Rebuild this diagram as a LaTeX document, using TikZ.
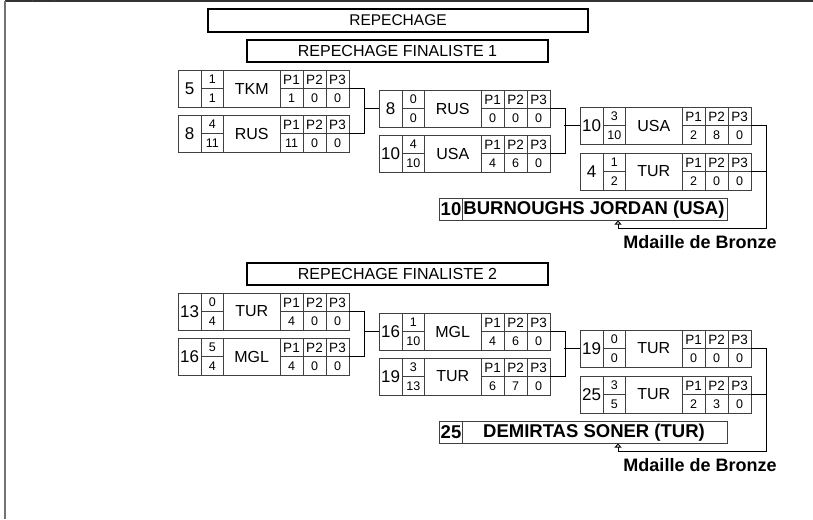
\documentclass[tikz,border=0pt]{standalone}
\usepackage{fontspec}
\setmainfont{Liberation Sans}
\usetikzlibrary{arrows.meta}
\usetikzlibrary{calc}

% one bout: id, top left corner, seed, scores, team, points
\newcommand{\matchbox}[9]{%
  \begin{scope}[shift={(#2)}]
    \node[match] (#1) at (85.5,18.5) {};
    \draw[cell] (23,0) -- (23,37) (45.5,0) -- (45.5,37) (102,0) -- (102,37)
      (125,0) -- (125,37) (148,0) -- (148,37)
      (23,18.5) -- (45.5,18.5) (102,18.5) -- (171,18.5);
    \node[seedtxt] (#1s) at (11.5,18.5) {#3};
    \node[scoretxt] (#1a) at (34.25,9.5) {#4};
    \node[scoretxt] (#1b) at (34.25,28) {#5};
    \node[teamtxt] (#1t) at (73.75,18.5) {#6};
    \node[headtxt] (#1h1) at (113.5,9.5) {P1};
    \node[headtxt] (#1h2) at (136.5,9.5) {P2};
    \node[headtxt] (#1h3) at (159.5,9.5) {P3};
    \node[scoretxt] (#1p1) at (113.5,28) {#7};
    \node[scoretxt] (#1p2) at (136.5,28) {#8};
    \node[scoretxt] (#1p3) at (159.5,28) {#9};
  \end{scope}}

\begin{document}
\begin{tikzpicture}[x=1pt, y=-1pt]
    \tikzset{title/.style = {draw=black, line width=2pt, minimum width=#1, minimum height=22pt, inner sep=0pt, font=\fontsize{16}{16}\selectfont}}
    \tikzset{match/.style = {draw=black!75, line width=0.8pt, minimum width=171pt, minimum height=37pt, inner sep=0pt}}
    \tikzset{cell/.style = {draw=black!75, line width=0.8pt}}
    \tikzset{seedtxt/.style = {inner sep=0pt, font=\fontsize{17}{17}\selectfont}}
    \tikzset{teamtxt/.style = {inner sep=0pt, font=\fontsize{16}{16}\selectfont}}
    \tikzset{scoretxt/.style = {inner sep=0pt, font=\fontsize{12.5}{12.5}\selectfont}}
    \tikzset{headtxt/.style = {inner sep=0pt, font=\fontsize{13.5}{13.5}\selectfont}}
    \tikzset{namebox/.style = {draw=black!75, line width=1pt, minimum width=288pt, minimum height=22pt, inner sep=0pt}}
    \tikzset{winner/.style = {inner sep=0pt, font=\fontsize{18.5}{18.5}\selectfont\bfseries}}
    \tikzset{bronze/.style = {inner sep=0pt, font=\fontsize{18}{18}\selectfont\bfseries}}
    \tikzset{link/.style = {draw=black, line width=0.9pt}}
    \tikzset{medal/.style = {link, -{Triangle[open, length=4pt, width=7pt]}}}

    \useasboundingbox (0,0) rectangle (813,519);

    % page frame
    \draw[black!80, line width=1.5pt] (813,1) -- (5,1);
    \draw[black!55, line width=2pt] (5,1) -- (5,519);
    \draw[black!70, line width=0.8pt] (32,0) -- (32,1) (54,0) -- (54,1);

    % titles
    \node[title=380pt, minimum height=23pt, font=\fontsize{15.5}{15.5}\selectfont] (rep) at (398,20.5) {REPECHAGE};
    \node[title=301pt] (fin1) at (397.5,51) {REPECHAGE FINALISTE 1};
    \node[title=301pt] (fin2) at (397.5,274) {REPECHAGE FINALISTE 2};

    % first bracket
    \matchbox{m1}{178,70}{5}{1}{1}{TKM}{1}{0}{0}
    \matchbox{m2}{178,115}{8}{4}{11}{RUS}{11}{0}{0}
    \matchbox{m3}{379,90}{8}{0}{0}{RUS}{0}{0}{0}
    \matchbox{m4}{379,135}{10}{4}{10}{USA}{4}{6}{0}
    \matchbox{m5}{580,107}{10}{3}{10}{USA}{2}{8}{0}
    \matchbox{m6}{580,153}{4}{1}{2}{TUR}{2}{0}{0}

    % second bracket
    \matchbox{m7}{178,293}{13}{0}{4}{TUR}{4}{0}{0}
    \matchbox{m8}{178,338}{16}{5}{4}{MGL}{4}{0}{0}
    \matchbox{m9}{379,313}{16}{1}{10}{MGL}{4}{6}{0}
    \matchbox{m10}{379,358}{19}{3}{13}{TUR}{6}{7}{0}
    \matchbox{m11}{580,330}{19}{0}{0}{TUR}{0}{0}{0}
    \matchbox{m12}{580,376}{25}{3}{5}{TUR}{2}{3}{0}

    % winners
    \node[namebox] (n1) at (583,209) {};
    \draw[cell] ($(n1.north west)+(24,0)$) -- ($(n1.south west)+(24,0)$);
    \node[winner] (n1s) at (451,209.5) {10};
    \node[winner] (n1t) at (594,209.5) {BURNOUGHS JORDAN (USA)};
    \node[bronze] (b1) at (700,242) {Mdaille de Bronze};

    \node[namebox] (n2) at (583,432) {};
    \draw[cell] ($(n2.north west)+(24,0)$) -- ($(n2.south west)+(24,0)$);
    \node[winner] (n2s) at (451,432.5) {25};
    \node[winner] (n2t) at (594,432.5) {DEMIRTAS SONER (TUR)};
    \node[bronze] (b2) at (700,465) {Mdaille de Bronze};

    % edges
    \draw[link] (m1.east) -- ++(15,0) |- (m2.east);
    \draw[link] (m3.west) -- ++(-15,0);
    \draw[link] (m3.east) -- ++(15,0) |- (m4.east);
    \draw[link] (m5.west) -- ++(-16,0);
    \draw[medal] (m5.east) -- ++(15,0) |- ($(n1.south)+(35,8)$) -- ($(n1.south)+(35,0)$);
    \draw[link] (m6.east) -- ++(15,0);

    \draw[link] (m7.east) -- ++(15,0) |- (m8.east);
    \draw[link] (m9.west) -- ++(-15,0);
    \draw[link] (m9.east) -- ++(15,0) |- (m10.east);
    \draw[link] (m11.west) -- ++(-16,0);
    \draw[medal] (m11.east) -- ++(15,0) |- ($(n2.south)+(35,8)$) -- ($(n2.south)+(35,0)$);
    \draw[link] (m12.east) -- ++(15,0);
\end{tikzpicture}
\end{document}
